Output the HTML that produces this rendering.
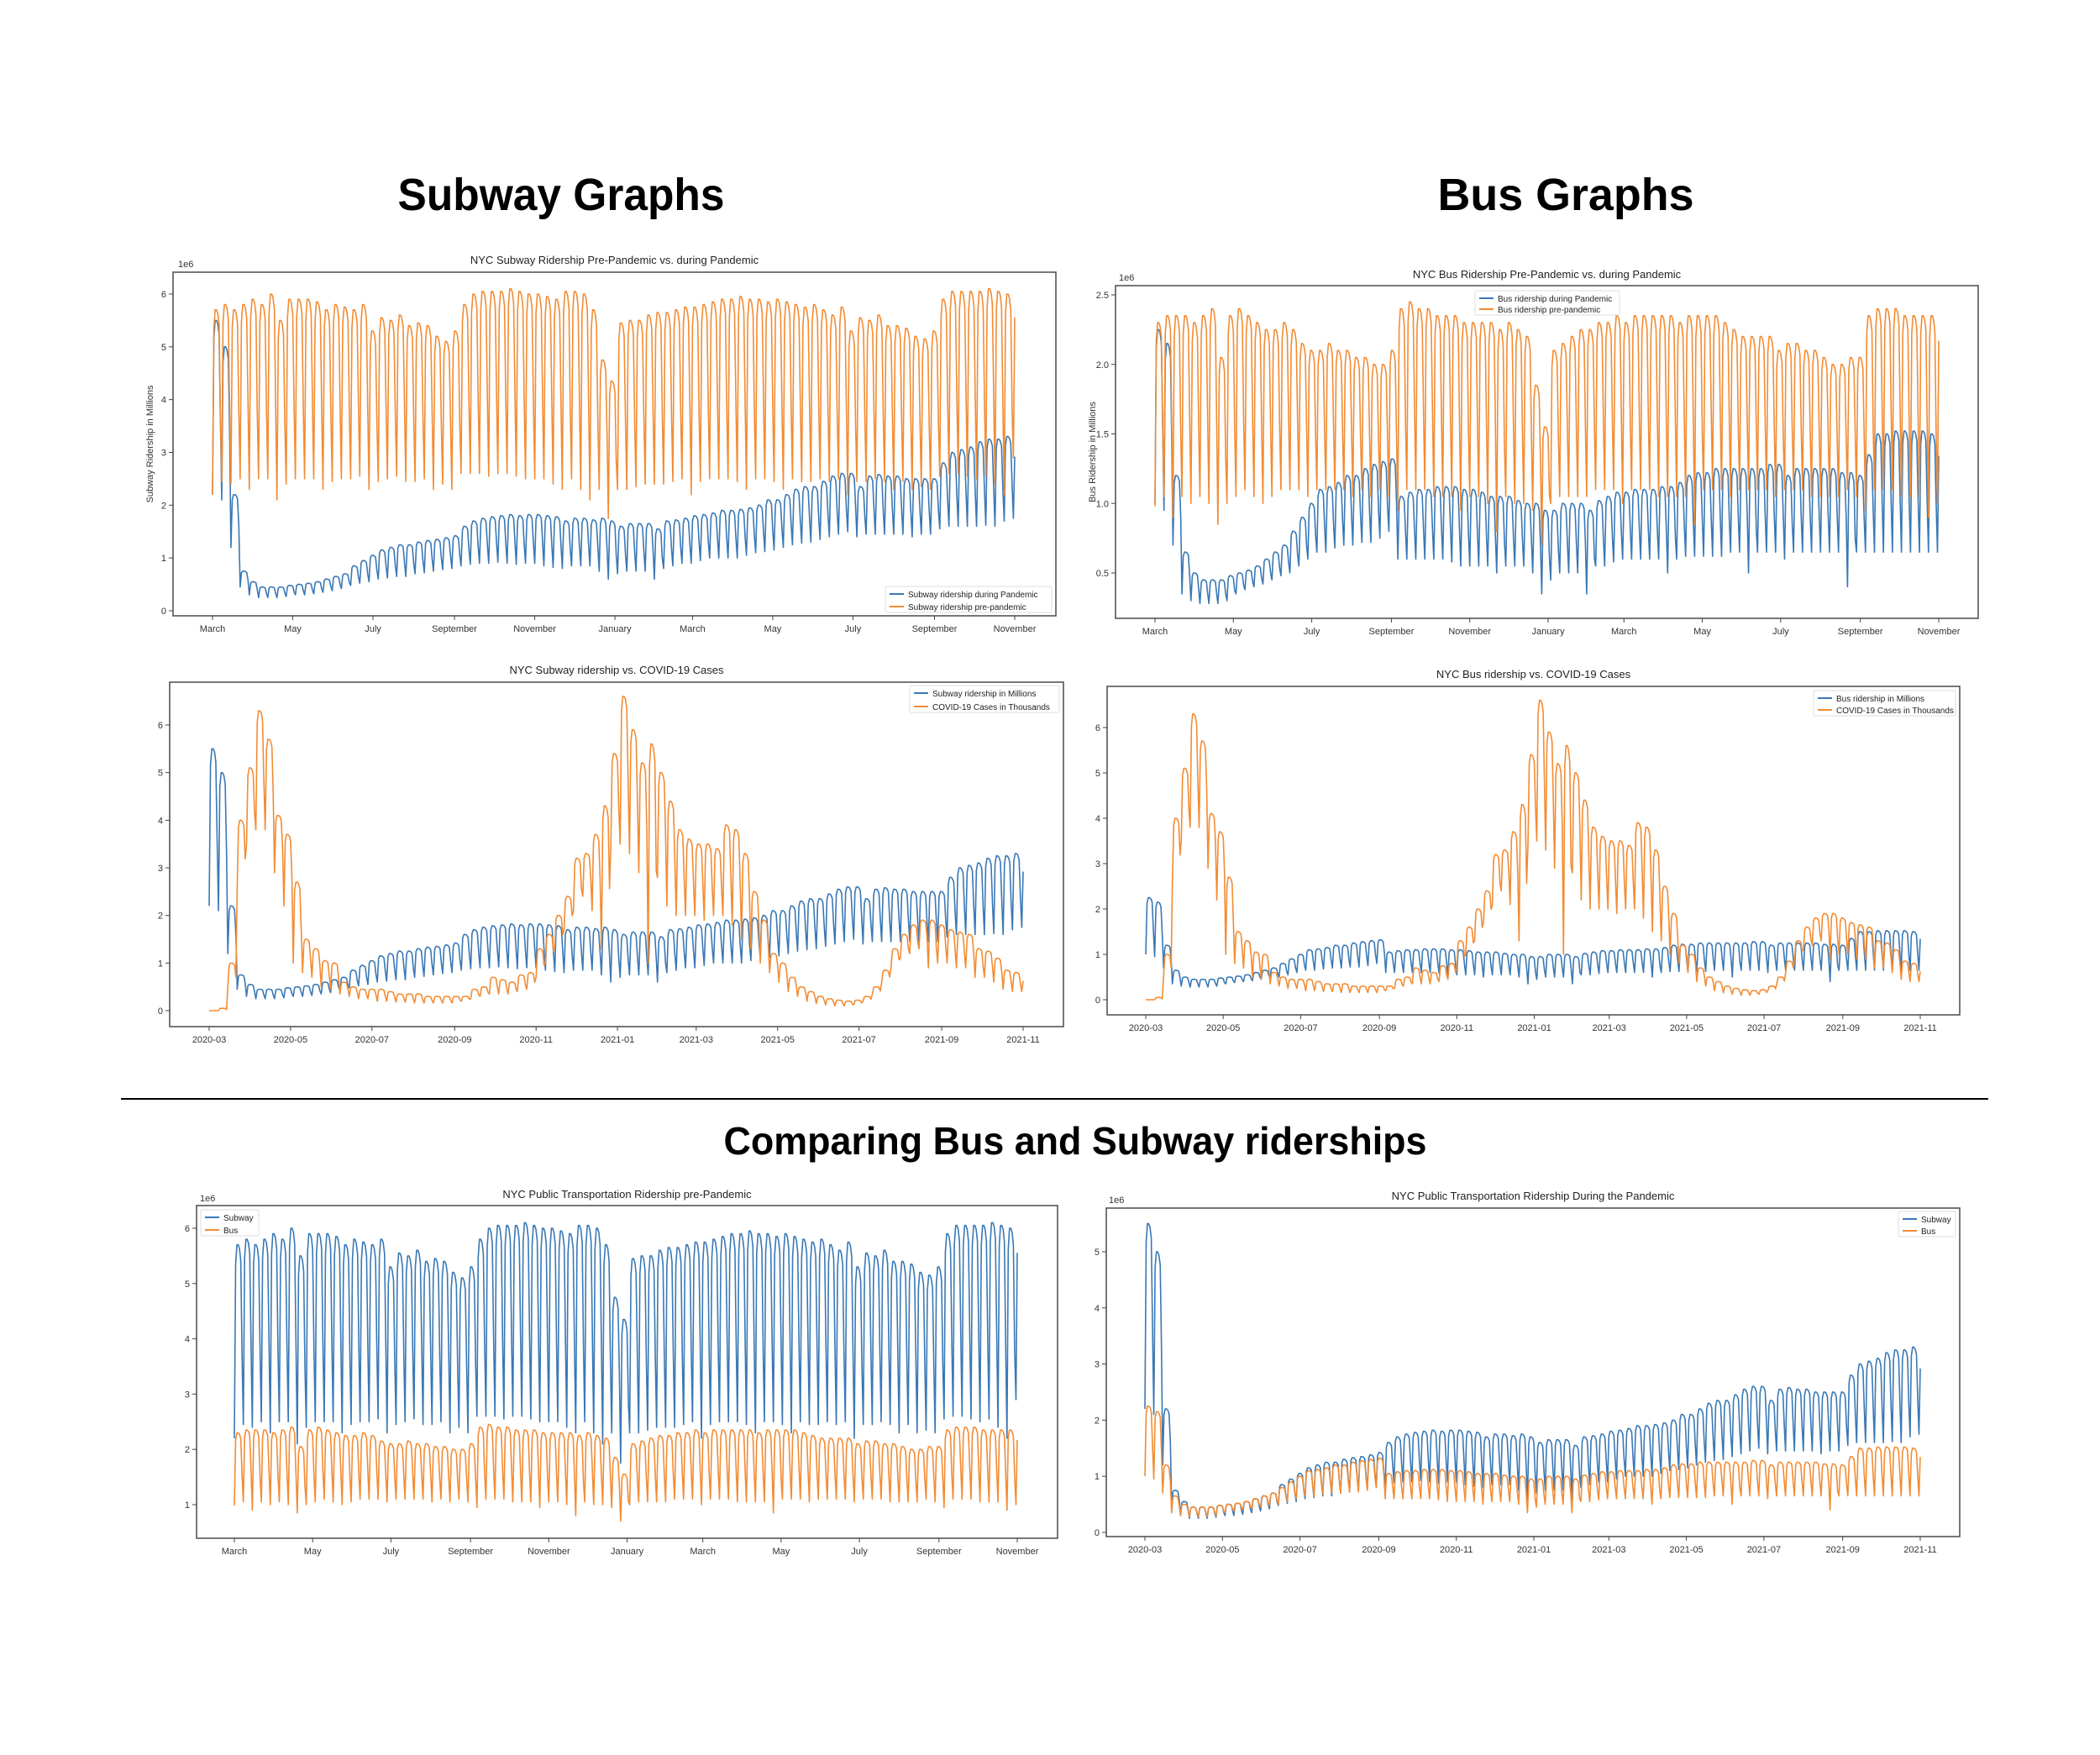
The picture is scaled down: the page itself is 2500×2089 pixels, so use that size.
<!DOCTYPE html>
<html><head><meta charset="utf-8"><title>NYC Ridership Graphs</title>
<style>html,body{margin:0;padding:0;background:#fff}svg{display:block}text{font-family:"Liberation Sans",sans-serif}</style>
</head><body>
<svg id="page" width="2500" height="2089" viewBox="0 0 2500 2089" xmlns="http://www.w3.org/2000/svg">
<rect width="2500" height="2089" fill="#fff"/>
<text x="668" y="250" text-anchor="middle" font-size="54" font-weight="bold" textLength="389" lengthAdjust="spacingAndGlyphs">Subway Graphs</text>
<text x="1864" y="250" text-anchor="middle" font-size="54" font-weight="bold" textLength="305" lengthAdjust="spacingAndGlyphs">Bus Graphs</text>
<line x1="144" y1="1308" x2="2367" y2="1308" stroke="#000" stroke-width="2"/>
<text x="1280" y="1374" text-anchor="middle" font-size="46" font-weight="bold" textLength="837" lengthAdjust="spacingAndGlyphs">Comparing Bus and Subway riderships</text>
<g id="charts"></g>
</svg>
<script>
// ---- weekly data (88 weeks from first March), millions / thousands ----
const subwayPanHigh=[5.5,5.0,2.2,0.75,0.55,0.45,0.45,0.45,0.48,0.5,0.52,0.55,0.6,0.65,0.7,0.85,0.95,1.05,1.15,1.2,1.25,1.25,1.3,1.33,1.35,1.38,1.42,1.6,1.7,1.75,1.78,1.8,1.82,1.8,1.82,1.82,1.8,1.78,1.7,1.75,1.75,1.72,1.75,1.7,1.6,1.65,1.65,1.65,1.55,1.7,1.72,1.75,1.8,1.82,1.85,1.9,1.9,1.92,1.95,2.0,2.1,2.1,2.2,2.3,2.35,2.35,2.45,2.55,2.6,2.6,2.35,2.55,2.58,2.55,2.55,2.5,2.5,2.5,2.5,2.8,3.0,3.05,3.1,3.2,3.25,3.25,3.3,3.05];
const subwayPanLow=[2.2,2.1,1.2,0.45,0.3,0.25,0.25,0.25,0.27,0.3,0.3,0.32,0.35,0.38,0.42,0.48,0.52,0.55,0.6,0.62,0.65,0.65,0.7,0.72,0.75,0.78,0.8,0.85,0.88,0.9,0.9,0.92,0.9,0.88,0.9,0.9,0.85,0.82,0.8,0.85,0.85,0.85,0.75,0.6,0.7,0.75,0.75,0.75,0.6,0.8,0.85,0.9,0.9,0.95,1.0,1.0,1.0,1.0,1.05,1.1,1.12,1.15,1.2,1.25,1.28,1.3,1.35,1.4,1.45,1.5,1.4,1.45,1.45,1.45,1.45,1.45,1.4,1.45,1.45,1.55,1.6,1.6,1.6,1.6,1.62,1.6,1.7,1.75];
const subwayPreHigh=[5.7,5.8,5.7,5.8,5.9,5.8,6.0,5.5,5.9,5.9,5.9,5.85,5.7,5.8,5.75,5.7,5.8,5.3,5.55,5.5,5.6,5.4,5.45,5.4,5.2,5.1,5.3,5.8,6.0,6.05,6.05,6.05,6.1,6.05,6.0,6.0,5.95,5.9,6.05,6.05,6.0,5.7,4.75,4.35,5.45,5.5,5.5,5.6,5.65,5.65,5.7,5.75,5.75,5.8,5.85,5.9,5.9,5.95,5.9,5.9,5.85,5.9,5.85,5.8,5.75,5.8,5.7,5.6,5.75,5.3,5.55,5.5,5.6,5.4,5.4,5.35,5.2,5.15,5.3,5.9,6.05,6.05,6.05,6.05,6.1,6.05,6.0,5.85];
const subwayPreLow=[2.2,2.45,2.4,2.5,2.3,2.5,2.5,2.1,2.4,2.5,2.5,2.5,2.3,2.45,2.5,2.5,2.55,2.3,2.45,2.5,2.55,2.45,2.45,2.5,2.3,2.4,2.3,2.6,2.6,2.6,2.55,2.6,2.6,2.55,2.5,2.5,2.5,2.4,2.3,2.5,2.3,2.1,2.3,1.75,2.3,2.3,2.35,2.4,2.4,2.4,2.45,2.5,2.2,2.45,2.5,2.5,2.5,2.45,2.3,2.5,2.5,2.45,2.3,2.5,2.45,2.45,2.5,2.45,2.5,2.2,2.45,2.45,2.5,2.45,2.3,2.45,2.3,2.35,2.3,2.55,2.6,2.6,2.55,2.5,2.55,2.4,2.2,2.9];
const busPreHigh=[2.3,2.35,2.35,2.35,2.3,2.35,2.4,2.05,2.35,2.4,2.35,2.3,2.25,2.25,2.3,2.25,2.15,2.1,2.1,2.15,2.1,2.1,2.05,2.05,2.0,2.0,2.1,2.4,2.45,2.4,2.4,2.35,2.35,2.35,2.3,2.3,2.3,2.3,2.25,2.3,2.25,2.2,1.85,1.55,2.1,2.15,2.2,2.25,2.25,2.3,2.3,2.35,2.3,2.35,2.35,2.35,2.35,2.35,2.3,2.35,2.35,2.35,2.35,2.3,2.25,2.2,2.2,2.2,2.2,2.1,2.15,2.15,2.1,2.1,2.05,2.0,2.0,2.05,2.05,2.35,2.4,2.4,2.4,2.35,2.35,2.35,2.35,2.3];
const busPreLow=[0.98,1.05,0.9,1.05,1.0,1.05,1.0,0.85,1.0,1.05,1.1,1.05,1.0,1.05,1.1,1.1,1.1,1.05,1.1,1.1,1.1,1.1,1.05,1.1,1.05,1.1,1.05,0.95,1.1,1.1,1.1,1.05,1.05,1.05,0.95,1.05,1.05,1.0,0.8,1.05,1.0,1.0,0.95,0.7,1.0,1.05,1.05,1.05,1.05,1.1,1.1,1.1,1.0,1.1,1.1,1.1,1.05,1.05,1.05,1.05,0.85,1.1,1.1,1.1,1.05,1.1,1.1,1.1,1.1,1.05,1.1,1.1,1.1,1.05,1.05,1.05,1.05,1.1,1.05,0.95,1.1,1.1,1.1,1.05,1.05,1.05,0.9,1.0];
const busPanHigh=[2.25,2.15,1.2,0.65,0.5,0.45,0.45,0.45,0.48,0.5,0.52,0.55,0.6,0.65,0.7,0.8,0.9,1.0,1.1,1.12,1.15,1.2,1.2,1.25,1.28,1.3,1.32,1.05,1.08,1.1,1.1,1.12,1.12,1.12,1.1,1.1,1.08,1.05,1.05,1.05,1.02,1.0,1.0,0.95,0.95,1.0,1.0,1.0,0.95,1.02,1.05,1.08,1.08,1.1,1.1,1.1,1.12,1.12,1.15,1.2,1.22,1.22,1.25,1.25,1.25,1.25,1.25,1.25,1.28,1.28,1.2,1.25,1.25,1.25,1.25,1.25,1.22,1.22,1.2,1.35,1.5,1.5,1.52,1.52,1.52,1.52,1.5,1.42];
const busPanLow=[1.0,0.95,0.7,0.35,0.3,0.28,0.28,0.28,0.3,0.35,0.38,0.4,0.42,0.45,0.48,0.5,0.55,0.6,0.65,0.65,0.68,0.7,0.7,0.72,0.72,0.75,0.8,0.6,0.6,0.6,0.6,0.6,0.6,0.58,0.55,0.55,0.55,0.55,0.5,0.55,0.55,0.55,0.5,0.35,0.45,0.5,0.5,0.5,0.35,0.55,0.55,0.58,0.6,0.6,0.6,0.6,0.6,0.5,0.6,0.62,0.62,0.62,0.62,0.62,0.65,0.65,0.5,0.65,0.65,0.65,0.6,0.65,0.65,0.65,0.65,0.65,0.65,0.4,0.65,0.65,0.65,0.65,0.65,0.65,0.65,0.65,0.65,0.65];
const covidHigh=[0,0.05,1.0,4.0,5.1,6.3,5.7,4.1,3.7,2.7,1.5,1.3,1.05,1.0,0.6,0.5,0.45,0.45,0.45,0.4,0.35,0.35,0.35,0.3,0.3,0.3,0.3,0.3,0.45,0.5,0.7,0.65,0.6,0.75,0.8,1.3,1.6,2.0,2.4,3.2,3.3,3.7,4.3,5.4,6.6,5.9,5.2,5.6,5.0,4.4,3.8,3.6,3.5,3.5,3.4,3.9,3.8,3.3,2.5,1.9,1.2,1.0,0.7,0.5,0.4,0.3,0.25,0.22,0.2,0.22,0.3,0.5,0.85,1.3,1.6,1.8,1.9,1.9,1.8,1.7,1.65,1.6,1.3,1.25,1.1,0.85,0.8,0.65];
const covidLow=[0,0,0.5,2.6,3.5,3.8,3.8,2.9,2.2,1.0,0.8,0.7,0.5,0.45,0.35,0.3,0.25,0.25,0.2,0.2,0.18,0.18,0.16,0.16,0.16,0.16,0.16,0.2,0.25,0.3,0.35,0.35,0.35,0.4,0.45,0.7,1.0,1.3,1.7,2.1,2.4,2.1,1.3,3.4,3.5,3.3,2.9,1.0,2.8,2.2,2.0,2.0,2.0,1.9,2.0,2.0,1.8,1.5,1.3,1.0,0.8,0.6,0.4,0.3,0.2,0.15,0.12,0.1,0.1,0.12,0.2,0.35,0.6,0.9,1.1,1.2,1.3,0.9,1.0,1.0,0.9,0.9,0.7,0.7,0.6,0.45,0.4,0.4];
const monthLabels=["March","May","July","September","November","January","March","May","July","September","November"];
const dateLabels=["2020-03","2020-05","2020-07","2020-09","2020-11","2021-01","2021-03","2021-05","2021-07","2021-09","2021-11"];
const tickDays=[0,61,122,184,245,306,365,426,487,549,610];
const NDAYS=611;

const BLUE="#3a78b5", ORANGE="#f28c34";
const NS="http://www.w3.org/2000/svg";
function mk(tag,attrs,parent){const e=document.createElementNS(NS,tag);for(const k in attrs)e.setAttribute(k,attrs[k]);if(parent)parent.appendChild(e);return e;}
// weekday shape: Sun low, Mon rising, Tue-Thu high, Fri slightly lower, Sat mid
const dowFrac=[0,0.9,1,1,0.98,0.92,0.42];
function daily(high,low){const out=[];for(let d=0;d<NDAYS;d++){const w=Math.floor(d/7),dow=d%7;const h=high[w],l=low[w];out.push(l+dowFrac[dow]*(h-l));}return out;}

const charts=[
 {id:"subway-pre-vs-pandemic",L:206,R:1257,T:324,B:733,x0:253,x1:1208,py0:727,v0:0,py1:350,v1:6,yt:[0,1,2,3,4,5,6],yfmt:v=>String(v),xl:monthLabels,title:"NYC Subway Ridership Pre-Pandemic vs. during Pandemic",ty:314,e6:[212,318],ylab:["Subway Ridership in Millions",182],
  series:[{n:"Subway ridership during Pandemic",c:BLUE,h:subwayPanHigh,l:subwayPanLow},{n:"Subway ridership pre-pandemic",c:ORANGE,h:subwayPreHigh,l:subwayPreLow}],leg:[1054,698,198,31]},
 {id:"subway-vs-covid",L:202,R:1266,T:812,B:1222,x0:249,x1:1218,py0:1203,v0:0,py1:863,v1:6,yt:[0,1,2,3,4,5,6],yfmt:v=>String(v),xl:dateLabels,title:"NYC Subway ridership vs. COVID-19 Cases",ty:802,
  series:[{n:"Subway ridership in Millions",c:BLUE,h:subwayPanHigh,l:subwayPanLow},{n:"COVID-19 Cases in Thousands",c:ORANGE,h:covidHigh,l:covidLow}],leg:[1083,816,178,32]},
 {id:"bus-pre-vs-pandemic",L:1328,R:2355,T:340,B:736,x0:1375,x1:2308,py0:682,v0:0.5,py1:351,v1:2.5,yt:[0.5,1,1.5,2,2.5],yfmt:v=>v.toFixed(1),xl:monthLabels,title:"NYC Bus Ridership Pre-Pandemic vs. during Pandemic",ty:331,e6:[1332,334],ylab:["Bus Ridership in Millions",1304],
  series:[{n:"Bus ridership during Pandemic",c:BLUE,h:busPanHigh,l:busPanLow},{n:"Bus ridership pre-pandemic",c:ORANGE,h:busPreHigh,l:busPreLow}],leg:[1756,346,172,29]},
 {id:"bus-vs-covid",L:1318,R:2333,T:817,B:1208,x0:1364,x1:2286,py0:1190,v0:0,py1:866,v1:6,yt:[0,1,2,3,4,5,6],yfmt:v=>String(v),xl:dateLabels,title:"NYC Bus ridership vs. COVID-19 Cases",ty:807,
  series:[{n:"Bus ridership in Millions",c:BLUE,h:busPanHigh,l:busPanLow},{n:"COVID-19 Cases in Thousands",c:ORANGE,h:covidHigh,l:covidLow}],leg:[2159,822,169,30]},
 {id:"transit-pre-pandemic",L:234,R:1259,T:1435,B:1831,x0:279,x1:1211,py0:1791,v0:1,py1:1462,v1:6,yt:[1,2,3,4,5,6],yfmt:v=>String(v),xl:monthLabels,title:"NYC Public Transportation Ridership pre-Pandemic",ty:1426,e6:[238,1430],
  series:[{n:"Subway",c:BLUE,h:subwayPreHigh,l:subwayPreLow},{n:"Bus",c:ORANGE,h:busPreHigh,l:busPreLow}],leg:[239,1440,69,31]},
 {id:"transit-during-pandemic",L:1317,R:2333,T:1438,B:1829,x0:1363,x1:2286,py0:1824,v0:0,py1:1490,v1:5,yt:[0,1,2,3,4,5],yfmt:v=>String(v),xl:dateLabels,title:"NYC Public Transportation Ridership During the Pandemic",ty:1428,e6:[1320,1432],
  series:[{n:"Subway",c:BLUE,h:subwayPanHigh,l:subwayPanLow},{n:"Bus",c:ORANGE,h:busPanHigh,l:busPanLow}],leg:[2260,1442,68,30]}
];

const root=document.getElementById('charts');
charts.forEach((c,ci)=>{
 const g=mk('g',{},root);
 
 
 const xs=d=>c.x0+(d/610)*(c.x1-c.x0);
 const ys=v=>c.py0+(v-c.v0)*(c.py1-c.py0)/(c.v1-c.v0);
 const cp=mk('clipPath',{id:'clip'+ci},g);
 mk('rect',{x:c.L,y:c.T,width:c.R-c.L,height:c.B-c.T},cp);
 const t=mk('text',{x:(c.L+c.R)/2,y:c.ty,'text-anchor':'middle','font-size':13,fill:'#222'},g);
 t.textContent=c.title;
 
 
 if(c.e6){const e=mk('text',{x:c.e6[0],y:c.e6[1],'font-size':11,fill:'#333'},g);e.textContent='1e6';
  
  }
 if(c.ylab){const cy=(c.T+c.B)/2;const yl=mk('text',{x:c.ylab[1],y:cy,'text-anchor':'middle','font-size':11,fill:'#333',transform:`rotate(-90 ${c.ylab[1]} ${cy})`},g);yl.textContent=c.ylab[0];
  
  }
 const sg=mk('g',{'clip-path':`url(#clip${ci})`},g);
 c.series.forEach((s,si)=>{
  const vals=daily(s.h,s.l);
  let dstr='';vals.forEach((v,d)=>{dstr+=(d?'L':'M')+xs(d).toFixed(1)+','+ys(v).toFixed(1);});
  const p=mk('path',{d:dstr,fill:'none',stroke:s.c,'stroke-width':1.6,'stroke-linejoin':'round'},sg);
  
  
 });
 const fr=mk('rect',{x:c.L,y:c.T,width:c.R-c.L,height:c.B-c.T,fill:'none',stroke:'#555','stroke-width':1.6},g);
 
 
 c.yt.forEach(v=>{const y=ys(v);mk('line',{x1:c.L-5,x2:c.L,y1:y,y2:y,stroke:'#444','stroke-width':1},g);
  const tt=mk('text',{x:c.L-8,y:y+4,'text-anchor':'end','font-size':11,fill:'#333'},g);tt.textContent=c.yfmt(v);
  
  });
 tickDays.forEach((d,i)=>{const x=xs(d);mk('line',{x1:x,x2:x,y1:c.B,y2:c.B+5,stroke:'#444','stroke-width':1},g);
  const tt=mk('text',{x:x,y:c.B+19,'text-anchor':'middle','font-size':11,fill:'#333'},g);tt.textContent=c.xl[i];
  
  });
 const [lx,ly,lw,lh]=c.leg;
 const lg=mk('g',{},g);
 
 
 mk('rect',{x:lx,y:ly,width:lw,height:lh,fill:'#fff','fill-opacity':0.85,stroke:'#ddd','stroke-width':1,rx:2},lg);
 c.series.forEach((s,si)=>{const yy=ly+9+si*(lh-16);
  mk('line',{x1:lx+5,x2:lx+22,y1:yy,y2:yy,stroke:s.c,'stroke-width':2},lg);
  const lt=mk('text',{x:lx+27,y:yy+4,'font-size':10,fill:'#222'},lg);lt.textContent=s.n;
  
  });
});
</script>
</body></html>
